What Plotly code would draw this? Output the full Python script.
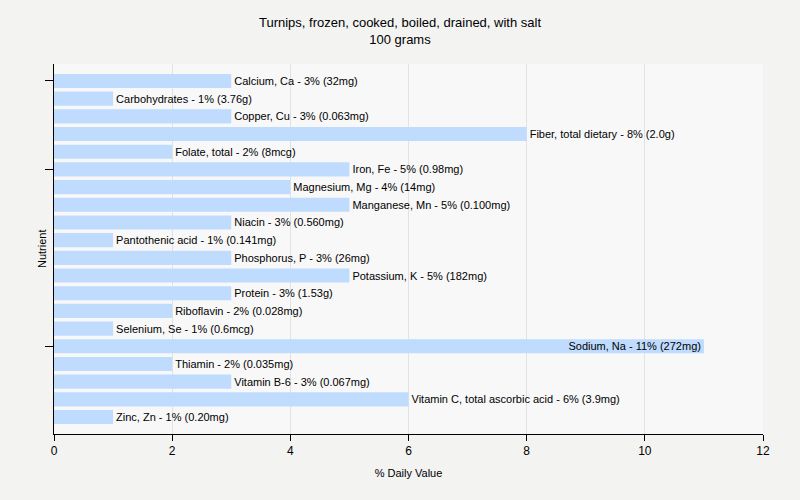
import plotly.graph_objects as go

nutrients = ["Calcium, Ca", "Carbohydrates", "Copper, Cu", "Fiber, total dietary", "Folate, total",
             "Iron, Fe", "Magnesium, Mg", "Manganese, Mn", "Niacin", "Pantothenic acid",
             "Phosphorus, P", "Potassium, K", "Protein", "Riboflavin", "Selenium, Se",
             "Sodium, Na", "Thiamin", "Vitamin B-6", "Vitamin C, total ascorbic acid", "Zinc, Zn"]
daily_value = [3, 1, 3, 8, 2, 5, 4, 5, 3, 1, 3, 5, 3, 2, 1, 11, 2, 3, 6, 1]
amounts = ["32mg", "3.76g", "0.063mg", "2.0g", "8mcg", "0.98mg", "14mg", "0.100mg", "0.560mg", "0.141mg",
           "26mg", "182mg", "1.53g", "0.028mg", "0.6mcg", "272mg", "0.035mg", "0.067mg", "3.9mg", "0.20mg"]
tick_nutrients = ["Calcium, Ca", "Iron, Fe", "Sodium, Na"]

labels = [f"{n} - {v}% ({a})" for n, v, a in zip(nutrients, daily_value, amounts)]
positions = ["inside" if v >= 10 else "outside" for v in daily_value]

FONT = "Liberation Sans, Arial, sans-serif"

fig = go.Figure(go.Bar(
    x=daily_value, y=nutrients, orientation="h",
    marker=dict(color="#bfdbfe", line=dict(width=0)),
    text=labels, textposition=positions, insidetextanchor="end",
    constraintext="none",
    textfont=dict(family=FONT, size=11, color="#000000"),
    outsidetextfont=dict(color="#000000"), insidetextfont=dict(color="#000000"),
    cliponaxis=False, hoverinfo="skip",
))

fig.update_layout(
    width=800, height=500,
    margin=dict(l=54, r=37, t=64, b=66),
    paper_bgcolor="#f3f3f2", plot_bgcolor="#f8f8f8",
    bargap=0.2,
    showlegend=False,
    title=dict(text="Turnips, frozen, cooked, boiled, drained, with salt<br>100 grams",
               x=0.5, xanchor="center", y=0.946, yanchor="top",
               font=dict(family=FONT, size=13, color="#000000")),
    font=dict(family=FONT, size=11, color="#000000"),
    annotations=[dict(text="Nutrient", xref="paper", yref="paper", x=0, y=0.5,
                      xanchor="center", yanchor="middle", xshift=-12, textangle=-90,
                      showarrow=False, font=dict(family=FONT, size=11, color="#000000"))],
)
fig.update_xaxes(range=[0, 12], dtick=2, showgrid=True, gridcolor="#e2e2e2", gridwidth=1,
                 showline=True, linecolor="#000000", linewidth=1, ticks="outside", ticklen=6,
                 tickcolor="#000000", zeroline=False, automargin=False,
                 tickfont=dict(size=12),
                 title=dict(text="% Daily Value", font=dict(size=11), standoff=11))
fig.update_yaxes(range=[len(nutrients) - 0.04, -0.96], autorange=False,
                 showline=True, linecolor="#000000", linewidth=1,
                 ticks="outside", ticklen=8, tickcolor="#000000", automargin=False,
                 tickmode="array", tickvals=tick_nutrients, ticktext=["", "", ""],
                 showgrid=False)

fig.write_html("out.html",
               config={"displayModeBar": False},
               post_script="document.body.style.margin='0';document.body.style.background='#f3f3f2';")
